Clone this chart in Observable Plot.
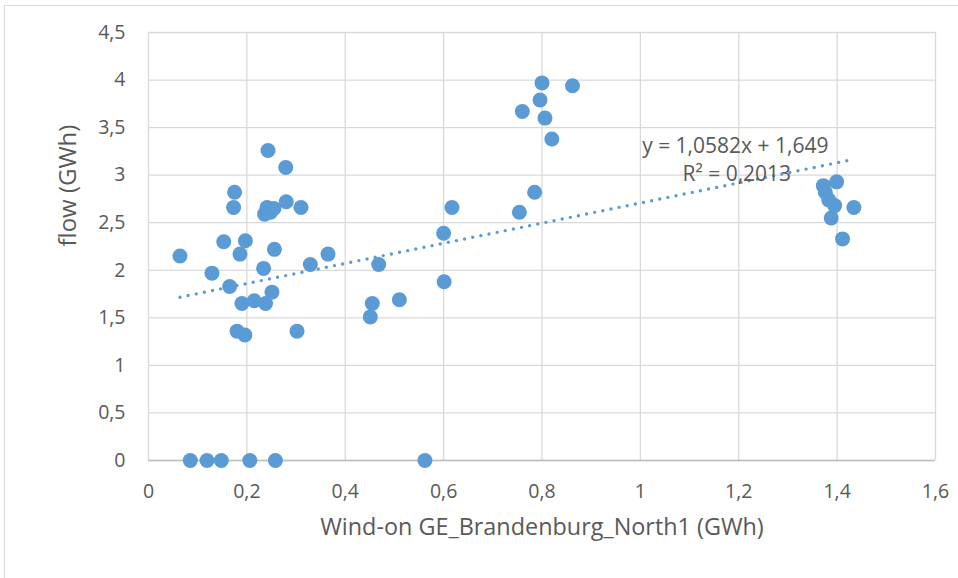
<!DOCTYPE html>
<html>
<head>
<meta charset="utf-8">
<script src="https://cdn.jsdelivr.net/npm/d3@7"></script>
<script src="https://cdn.jsdelivr.net/npm/@observablehq/plot@0.6"></script>
<style>
  html, body { margin: 0; padding: 0; background: #fff; overflow: hidden; }
  #wrap { position: relative; width: 958px; height: 578px; }
  #border { position: absolute; left: 4px; top: 5px; width: 1200px; height: 1200px; border: 1px solid #d9d9d9; box-sizing: border-box; }
  #chart { position: absolute; left: 0; top: 0; }
</style>
</head>
<body>
<div id="wrap"><div id="border"></div><div id="chart"></div></div>
<script>
const xValues = [0.243,0.279,0.175,0.173,0.241,0.255,0.236,0.248,0.280,0.310,
  0.064,0.153,0.197,0.186,0.256,0.365,0.129,0.234,0.329,0.165,
  0.190,0.215,0.238,0.251,0.180,0.196,0.302,0.468,0.455,0.451,
  0.800,0.862,0.796,0.760,0.806,0.820,0.785,0.754,0.617,0.600,
  0.601,0.510,1.399,1.372,1.376,1.383,1.395,1.388,1.434,1.411,
  0.085,0.119,0.148,0.206,0.258,0.562];
const yValues = [3.26,3.08,2.82,2.66,2.66,2.65,2.59,2.61,2.72,2.66,
  2.15,2.30,2.31,2.17,2.22,2.17,1.97,2.02,2.06,1.83,
  1.65,1.68,1.65,1.77,1.36,1.32,1.36,2.06,1.65,1.51,
  3.97,3.94,3.79,3.67,3.60,3.38,2.82,2.61,2.66,2.39,
  1.88,1.69,2.93,2.89,2.82,2.74,2.68,2.55,2.66,2.33,
  0,0,0,0,0,0];
const xTicks = [0,0.2,0.4,0.6,0.8,1,1.2,1.4,1.6];
const yTicks = [0,0.5,1,1.5,2,2.5,3,3.5,4,4.5];
const slope = 1.0582, intercept = 1.649;
const eqLines = ["y = 1,0582x + 1,649", "R² = 0,2013"];
const eqX = [1.193, 1.196];
const eqY = [3.30, 3.005];
const xLabel = "Wind-on GE_Brandenburg_North1 (GWh)";
const yLabel = "flow (GWh)";

const points = xValues.map((x, i) => ({x, y: yValues[i]}));
const xMin = d3.min(xValues), xMax = d3.max(xValues);
const trend = [xMin, xMax].map(x => ({x, y: slope * x + intercept}));
const eq = eqLines.map((t, i) => ({t, x: eqX[i], y: eqY[i]}));
const fmt = d => (+d.toFixed(2)).toString().replace(".", ",");
const FONT = "'Open Sans', sans-serif";
const COL = "#595959";
const BLUE = "#5B9BD5";

const chart = Plot.plot({
  width: 958, height: 578,
  marginLeft: 148, marginRight: 23, marginTop: 32, marginBottom: 118,
  style: {fontFamily: FONT, fontSize: "19px", color: COL, background: "transparent"},
  x: {domain: [0, 1.6]},
  y: {domain: [0, 4.5]},
  marks: [
    Plot.gridX(xTicks, {stroke: "#d9d9d9", strokeOpacity: 1, strokeWidth: 1.3}),
    Plot.gridY(yTicks, {stroke: "#d9d9d9", strokeOpacity: 1, strokeWidth: 1.3}),
    Plot.ruleY([0], {stroke: "#bfbfbf", strokeWidth: 1.5}),
    Plot.axisX(xTicks, {tickSize: 0, tickPadding: 24, tickFormat: fmt, label: null, fontSize: 19.5, fill: COL}),
    Plot.axisY(yTicks, {tickSize: 0, tickPadding: 23, tickFormat: fmt, label: null, fontSize: 19.5, fill: COL}),
    Plot.text([xLabel], {frameAnchor: "bottom", dy: 67, fontSize: 23.4, fill: COL, lineAnchor: "middle"}),
    Plot.text([yLabel], {frameAnchor: "left", dx: -80, rotate: -90, fontSize: 24, fill: COL, lineAnchor: "middle"}),
    Plot.dot(points, {x: "x", y: "y", r: 7.5, fill: BLUE, stroke: "none"}),
    Plot.line(trend, {x: "x", y: "y", stroke: BLUE, strokeWidth: 3.4, strokeDasharray: "0 8.3", strokeLinecap: "round"}),
    Plot.text(eq, {x: "x", y: "y", text: "t", fontSize: 21, fill: COL, lineAnchor: "middle"})
  ]
});
document.getElementById("chart").appendChild(chart);
</script>
</body>
</html>
